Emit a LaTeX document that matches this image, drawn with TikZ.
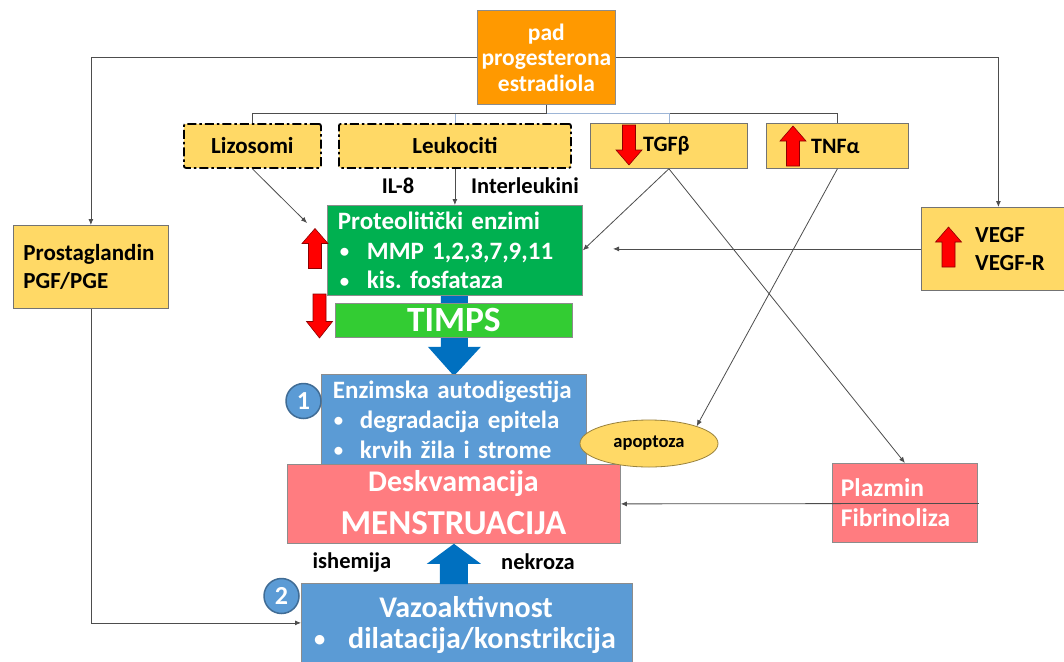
\documentclass[tikz,border=0pt]{standalone}
\usepackage{fontspec}
\setmainfont{Carlito}
\usetikzlibrary{arrows.meta,shapes.geometric,calc}
\definecolor{orng}{HTML}{FF9900}
\definecolor{gold}{HTML}{FFD966}
\definecolor{grn}{HTML}{00B050}
\definecolor{lime}{HTML}{33CC33}
\definecolor{blu}{HTML}{5B9BD5}
\definecolor{dblu}{HTML}{0070C0}
\definecolor{pnk}{HTML}{FF7C80}
\definecolor{ln}{HTML}{4D4D4D}
\definecolor{lnb}{HTML}{9DB5D6}
\pgfdeclarelayer{background}
\pgfsetlayers{background,main}
\newcommand{\fs}[2]{\fontsize{#1}{#2}\selectfont}
\newcommand{\bdot}{\raisebox{1.5pt}{\scalebox{0.75}{•}}}
\begin{document}
\begin{tikzpicture}[x=1pt,y=-1pt,
  ybox/.style={draw=black!55, fill=gold, line width=0.8pt, inner sep=0pt, text=black, font=\bfseries\fs{23}{28}},
  dbox/.style={draw=black, line width=1.8pt, rounded corners=2pt, dash pattern=on 9pt off 3pt on 2.5pt off 3pt},
  wbox/.style={draw=black!45, line width=0.8pt, inner sep=0pt, text=white, font=\bfseries\fs{25}{30}},
  wtxt/.style={inner sep=0pt, text=white, font=\bfseries\fs{30}{33}},
  lbl/.style={inner sep=0pt, text=black, font=\bfseries\fs{22.5}{26}},
  conn/.style={draw=ln, line width=0.8pt},
  arr/.style={conn, -{Latex[length=6pt,width=5pt]}},
  circ/.style={circle, draw=blu!70!black, line width=1.5pt, fill=blu, minimum size=35pt, inner sep=0pt, text=white, font=\bfseries\fs{26}{26}},
  barrow/.style={fill=dblu},
  redup/.pic={\path[fill=red, draw=red!55!black, line width=0.6pt] (-6.5,20) -- (-6.5,-5) -- (-13,-5) -- (0,-20) -- (13,-5) -- (6.5,-5) -- (6.5,20) -- cycle;},
  reddown/.pic={\path[fill=red, draw=red!55!black, line width=0.6pt] (-6.5,-20) -- (-6.5,5) -- (-13,5) -- (0,20) -- (13,5) -- (6.5,5) -- (6.5,-20) -- cycle;}
]
\useasboundingbox (0,0) rectangle (1064,661);

% top node
\node[wbox, fill=orng, font=\bfseries\fs{23.5}{25.5}, align=center, anchor=north west, minimum width=138pt, minimum height=94pt] (pad) at (477,10) {pad\\progesterona\\estradiola};

% second row
\node[ybox, dbox, anchor=north west, minimum width=137pt, minimum height=44pt] (liz) at (183,123) {Lizosomi};
\node[ybox, dbox, anchor=north west, minimum width=232pt, minimum height=44pt] (leu) at (338,123) {Leukociti};
\node[ybox, anchor=north west, minimum width=157pt, minimum height=45pt] (tgf) at (590,123) {};
\node[ybox, anchor=north west, minimum width=142pt, minimum height=45pt] (tnf) at (766,123) {};
\pic at (629,145) {reddown};
\pic at (793,146) {redup};
\node[lbl, font=\bfseries\fs{22}{26}, anchor=west] (tgft) at (643,146) {TGFβ};
\node[lbl, font=\bfseries\fs{22}{26}, anchor=west] (tnft) at (811,146) {TNFα};

\node[lbl] (il8) at (398,186) {IL-8};
\node[lbl] (ilk) at (525,186) {Interleukini};

% left / right side boxes
\node[ybox, anchor=north west, minimum width=155pt, minimum height=83pt, text width=135pt, align=left, inner xsep=10pt] (pros) at (13,225) {Prostaglandin\\PGF/PGE};
\node[ybox, anchor=north west, minimum width=154pt, minimum height=83pt] (vegf) at (921,207) {};
\pic at (948.5,247) {redup};
\node[lbl, font=\bfseries\fs{23}{28}, anchor=west, align=left] (vegft) at (975,249) {VEGF\\VEGF-R};

% enzymes
\node[wbox, fill=grn, anchor=north west, minimum width=255pt, minimum height=90pt, text width=234pt, align=left, inner xsep=10pt, font=\bfseries\fs{25}{29.5}] (prot) at (327,205) {Proteolitički enzimi\\\makebox[29pt][l]{\hspace{2pt}\bdot}MMP 1,2,3,7,9,11\\\makebox[29pt][l]{\hspace{2pt}\bdot}kis.\ fosfataza};
\pic at (315,248.5) {redup};
\node[wbox, fill=lime, anchor=north west, minimum width=237pt, minimum height=34pt, font=\bfseries\fs{35.5}{35}] (timps) at (335,303) {TIMPS};
\pic[yscale=1.1] at (319.5,316) {reddown};

\node[wbox, fill=blu, anchor=north west, minimum width=265pt, minimum height=90pt, text width=242pt, align=left, inner xsep=11pt] (enz) at (321,374) {Enzimska autodigestija\\\makebox[27pt][l]{\hspace{1pt}\bdot}degradacija epitela\\\makebox[27pt][l]{\hspace{1pt}\bdot}krvih žila i strome};
\node[circ] (c1) at (303.5,401) {1};

\node[wbox, fill=pnk, anchor=north west, minimum width=333pt, minimum height=79pt] (desk) at (287,464) {};
\node[wtxt] (desk1) at (453.5,484) {Deskvamacija};
\node[wtxt, font=\bfseries\fs{35}{36}] (desk2) at (453.5,523) {MENSTRUACIJA};
\node[ellipse, draw=gold!60!black, line width=0.8pt, fill=gold, minimum width=138pt, minimum height=47pt, inner sep=0pt, font=\bfseries\fs{18.5}{20}] (apo) at (649,443.5) {apoptoza};

\node[wbox, fill=pnk, anchor=north west, minimum width=145pt, minimum height=79pt, text width=128pt, align=left, inner xsep=8pt, font=\bfseries\fs{25.5}{30}] (plaz) at (832,463) {Plazmin\\Fibrinoliza};

\node[lbl] (ish) at (352,562) {ishemija};
\node[lbl] (nek) at (538,562) {nekroza};

\node[wbox, fill=blu, anchor=north west, minimum width=331pt, minimum height=79pt] (vazo) at (301,583) {};
\node[wtxt] (vazo1) at (466,607) {Vazoaktivnost};
\node[wtxt, anchor=west] (vazo2) at (314,640) {\makebox[34pt][l]{\bdot}dilatacija/konstrikcija};
\node[circ] (c2) at (281.5,596) {2};

% block arrows
\begin{pgfonlayer}{background}
\fill[white] (0,0) rectangle (1064,661);
\path[barrow] ($(prot.south)+(-14,-2)$) -- ($(prot.south)+(13,-2)$) -- ($(prot.south)+(13,51)$) -- ($(prot.south)+(26,51)$) -- ($(enz.north)+(0,2)$) -- ($(prot.south)+(-27,51)$) -- ($(prot.south)+(-14,51)$) -- cycle;
\end{pgfonlayer}
\path[barrow] ($(vazo.north -| desk.south)+(-14,1)$) -- ($(vazo.north -| desk.south)+(14,1)$) -- ($(desk.south)+(14,20)$) -- ($(desk.south)+(27,20)$) -- (desk.south) -- ($(desk.south)+(-27,20)$) -- ($(desk.south)+(-14,20)$) -- cycle;

% connectors
\draw[arr] (pad.west) -| (pros.north);
\draw[arr] (pad.east) -| (vegf.north);
\coordinate (bus) at ($(pad.south)+(0,9)$);
\draw[conn] (tnf.north) |- (bus);
\draw[conn, draw=lnb] (tgf.north) |- (bus);
\draw[conn, draw=lnb] (leu.north) |- (bus);
\draw[conn] (liz.north) |- (bus);
\draw[conn] (pad.south) -- (bus);
\draw[arr] (leu.south) -- (prot.north);
\coordinate (lizend) at ($(prot.north west)+(-20,18)$);
\draw[arr] (liz.south) -- (lizend);
\draw[arr] (tgf.south) -- (prot.east);
\draw[arr] (tgf.south) -- (plaz.north);
\draw[arr] (tnf.south) -- (apo.20);
\coordinate (vegfend) at ($(vegf.west)+(-308,0)$);
\draw[arr] (vegf.west) -- (vegfend);
\draw[arr] ($(plaz.east)+(1,0.5)$) -- (desk.east);
\draw[arr] (pros.south) |- (vazo.west);
\end{tikzpicture}
\end{document}
